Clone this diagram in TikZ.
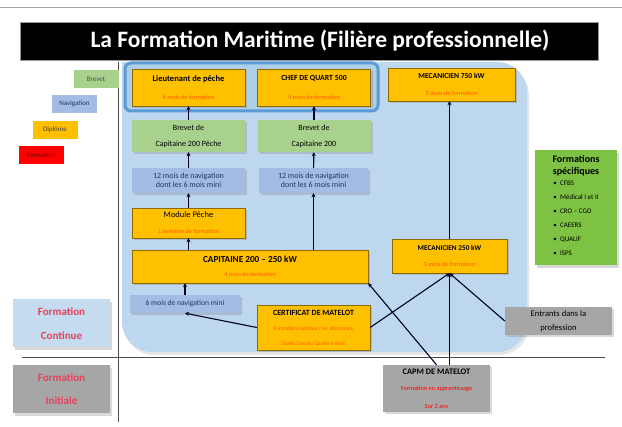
\documentclass[tikz,border=0pt]{standalone}
\usepackage{fontspec}
\setmainfont{Carlito}
\usepackage{tikz}
\usetikzlibrary{arrows.meta, positioning, shadows}

\definecolor{cDiplome}{HTML}{FFC000}
\definecolor{cBrevet}{HTML}{A9D18E}
\definecolor{cNavig}{HTML}{A4BBE3}
\definecolor{cNavTexte}{HTML}{1F3864}
\definecolor{cZone}{HTML}{BDD7EE}
\definecolor{cCadre}{HTML}{5B9BD5}
\definecolor{cSpecif}{HTML}{7DC242}
\definecolor{cGris}{HTML}{A6A6A6}
\definecolor{cContinue}{HTML}{C5DCF0}
\definecolor{txtorange}{HTML}{FF5A00}
\definecolor{txtrouge}{HTML}{E8405A}

\newcommand{\duree}[2][txtorange]{{\color{#1}\fontsize{6.3}{7}\selectfont #2}}

\begin{document}
\begin{tikzpicture}[x=1pt, y=-1pt,
    every node/.style={font=\fontsize{8}{9.5}\selectfont, align=center},
    boite/.style={rectangle, inner sep=1pt, minimum width=113pt,
                  drop shadow={shadow xshift=2pt, shadow yshift=-2.5pt, opacity=0.3}},
    diplo/.style={boite, fill=cDiplome, draw=cDiplome!55!black, line width=0.4pt},
    brev/.style={boite, fill=cBrevet},
    navig/.style={boite, fill=cNavig, text=cNavTexte},
    grisbox/.style={boite, fill=cGris},
    legende/.style={rectangle, minimum width=45pt, minimum height=18pt,
                    inner sep=1pt, font=\fontsize{7}{8}\selectfont},
    niveau/.style={boite, minimum width=97pt, minimum height=48pt,
                   text=txtrouge, font=\fontsize{11}{13}\selectfont\bfseries},
    arr/.style={-{Stealth[length=4pt, width=4pt]}, line width=1.1pt, draw=black!85!blue},
    axe/.style={line width=0.7pt, draw=black!70}
]
\useasboundingbox (0,0) rectangle (622,427);

% fond et titre
\draw[black!35, line width=0.8pt] (0,7) -- (622,7);
\filldraw[fill=black, draw=black!40] (20,22) rectangle (598,60);
\node[text=white, font=\fontsize{23.5}{26}\selectfont\bfseries] (titre) at (320,41)
      {La Formation Maritime (Filière professionnelle)};
\fill[cZone, drop shadow={shadow xshift=2pt, shadow yshift=-3pt, opacity=0.2}]
      (122,62) [rounded corners=30pt] -- (527,62) -- (527,352) -- (122,352)
      [sharp corners] -- cycle;
\draw[draw=cCadre, fill=cZone!85!cCadre, line width=3pt, rounded corners=6pt]
      (125,63) rectangle (378,111);
\draw[axe] (118,62) -- (118,422);
\draw[axe] (22,357) -- (605,357);

% legende
\node[legende, fill=cBrevet, text=black!70]       (lgBrevet) at (96,79)     {Brevet};
\node[legende, fill=cNavig, text=cNavTexte]        (lgNavig)  at (74.5,104)  {Navigation};
\node[legende, fill=cDiplome, text=black!75]       (lgDiplo)  at (55,130)    {Diplôme};
\node[legende, fill=red, text=red!45!black]        (lgForm)   at (41.5,155.5){Formation};

% niveaux
\node[niveau, fill=cContinue] (fcont) at (61.5,323.5) {Formation\\[11pt]Continue};
\node[niveau, fill=cGris]     (finit) at (61.5,389.5) {Formation\\[10pt]Initiale};

% filiere pont
\node[diplo, minimum height=37pt] (lieut) at (188.5,87.5)
      {\fontsize{8.5}{10}\selectfont\textbf{Lieutenant de pêche}\\[9pt]\duree{4 mois de formation}};
\node[diplo, minimum height=37pt] (chef)  at (314,87.5)
      {\fontsize{7.8}{10}\selectfont\textbf{CHEF DE QUART 500}\\[9pt]\duree{4 mois de formation}};
\node[brev, minimum height=32pt]  (brevP)   at (188.5,136) {Brevet de\\[6.5pt]Capitaine 200 Pêche};
\node[brev, minimum height=32pt]  (brev200) at (314,136)   {Brevet de\\[6.5pt]Capitaine 200};
\node[navig, minimum height=25pt] (navP)    at (188.5,180.5)
      {12 mois de navigation\\dont les 6 mois mini};
\node[navig, minimum height=25pt, minimum width=109pt] (nav200) at (313.5,180.5)
      {12 mois de navigation\\dont les 6 mois mini};
\node[diplo, minimum height=30pt] (module) at (188.5,223)
      {\fontsize{8.5}{9.5}\selectfont Module Pêche\\[6.5pt]\duree{1 semaine de formation}};
\node[diplo, minimum height=33pt, minimum width=236pt] (capit) at (250,266.5)
      {\fontsize{9.2}{11}\selectfont\textbf{CAPITAINE 200 – 250 kW}\\[5pt]\duree{4 mois de formation}};
\node[navig, minimum height=18pt, minimum width=110pt, font=\fontsize{7.6}{9}\selectfont]
      (nav6) at (185,304) {6 mois de navigation mini};
\node[diplo, minimum height=45pt] (certif) at (313.5,327.5)
      {\textbf{CERTIFICAT DE MATELOT}\\[5.5pt]
       {\color{txtorange}\fontsize{5.5}{6.5}\selectfont Formation continue / en alternance}\\[5.5pt]
       {\color{txtorange}\fontsize{5.5}{6.5}\selectfont Durée 2 mois / Durée 6 mois}};

% filiere machine
\node[diplo, minimum height=33pt, minimum width=127pt] (mec750) at (451.5,84.5)
      {\fontsize{7.6}{9}\selectfont\textbf{MECANICIEN 750 kW}\\[8pt]\duree{3 mois de formation}};
\node[diplo, minimum height=34pt, minimum width=115pt] (mec250) at (449.5,256)
      {\fontsize{7.3}{9}\selectfont\textbf{MECANICIEN 250 kW}\\[7pt]\duree{1 mois de formation}};

% a cote
\node[boite, fill=cSpecif, minimum width=82pt, minimum height=115pt, anchor=north,
      font=\fontsize{10}{12}\selectfont\bfseries] (specif) at (576,150)
      {Formations\\spécifiques\\[-1pt]
       {\fontsize{7}{8}\selectfont\mdseries\def\arraystretch{1.75}\begin{tabular}{@{}l@{}}
        \textbullet\ \ CFBS\\ \textbullet\ \ Médical I et II\\ \textbullet\ \ CRO – CGO\\
        \textbullet\ \ CAEERS\\ \textbullet\ \ QUALIF\\ \textbullet\ \ ISPS
       \end{tabular}}};
\node[grisbox, minimum width=107pt, minimum height=28pt, font=\fontsize{8.6}{10}\selectfont]
      (entrants) at (558.5,321) {Entrants dans la\\[4pt]profession};
\node[grisbox, minimum width=107pt, minimum height=47pt] (capm) at (436.5,388.5)
      {\fontsize{8.4}{10}\selectfont\textbf{CAPM DE MATELOT}\\[7pt]\duree[red]{Formation en apprentissage}\\[8pt]\duree[red]{Sur 2 ans}};

% fleches
\draw[arr] (brevP)   -- (lieut);
\draw[arr] (brev200) -- (chef);
\draw[arr] (navP)    -- (brevP);
\draw[arr] (nav200)  -- (brev200);
\draw[arr] (module)  -- (navP);
\draw[arr] (capit.north -| module) -- (module.south);
\draw[arr] (capit.north -| nav200) -- (nav200.south);
\draw[arr] (nav6)    -- (capit.south -| nav6);
\draw[arr] (certif.west) -- (nav6.south);
\draw[arr] (certif.east) -- (mec250.south);
\draw[arr] (capm.north)  -- (capit.south east);
\draw[arr] (capm.north -| mec250) -- (mec250.south);
\draw[arr] (entrants.west) -- (mec250.south);
\draw[arr] (mec250.north) -- (mec750.south -| mec250);
\end{tikzpicture}
\end{document}
